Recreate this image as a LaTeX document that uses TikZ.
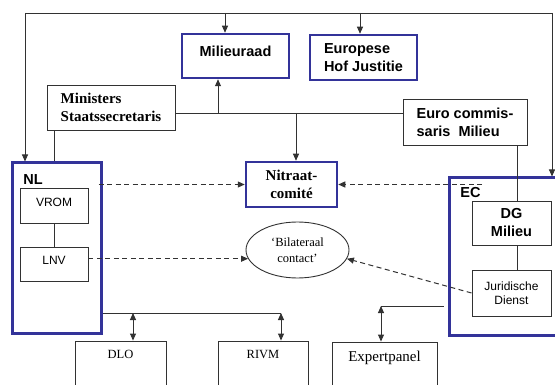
\documentclass[tikz,border=0pt]{standalone}
\usepackage{fontspec}
\setmainfont{Liberation Serif}
\setsansfont{Liberation Sans}
\usetikzlibrary{arrows.meta,shapes.geometric}
\definecolor{eublue}{RGB}{51,51,153}
\definecolor{lijn}{RGB}{50,50,50}

\begin{document}
\begin{tikzpicture}[x=1pt,y=-1pt,line width=0.9pt,draw=lijn,
    box/.style={draw=lijn,rectangle,inner sep=0pt},
    orgaan/.style={box,draw=eublue,line width=2.5pt},
    groep/.style={draw=eublue,line width=3pt,inner sep=0pt},
    kop/.style={font=\sffamily\bfseries\fontsize{14.5}{18}\selectfont},
    tekst/.style={font=\sffamily\fontsize{12}{14}\selectfont},
    vet/.style={font=\bfseries\fontsize{15}{18}\selectfont},
    serif/.style={font=\fontsize{12.5}{16}\selectfont},
    pijl/.style={-{Triangle[length=7pt,width=6pt]}},
    dubbel/.style={{Triangle[length=7pt,width=6pt]}-{Triangle[length=7pt,width=6pt]}},
    stip/.style={pijl,line width=1pt,dash pattern=on 5pt off 3.5pt}]
    \useasboundingbox (0,0) rectangle (555,385);
    \clip (0,0) rectangle (555,385);

    \node[groep,minimum width=89pt,minimum height=170pt] (nl) at (56.5,248) {};
    \node[groep,minimum width=126pt,minimum height=157pt] (ec) at (512,256.5) {};
    \node[kop,anchor=base west,inner sep=0pt] (nlkop) at (23,185) {NL};
    \node[kop,anchor=base west,inner sep=0pt] (eckop) at (460,198) {EC};

    \node[orgaan,kop,minimum width=107pt,text height=23pt,text depth=21pt] (mr) at (235.5,56) {Milieuraad};
    \node[orgaan,kop,minimum width=107pt,minimum height=45pt,align=left] (ehj) at (363.5,57.5) {Europese\\Hof Justitie};
    \node[box,vet,minimum width=128pt,minimum height=45pt,align=left] (min) at (111,107.5) {Ministers\\Staatssecretaris};
    \node[box,kop,minimum width=124pt,minimum height=46pt,align=left] (eu) at (465,122) {Euro commis-\\saris\ \ Milieu};
    \node[orgaan,vet,minimum width=91pt,minimum height=45pt,align=center] (nc) at (291.5,184.5) {Nitraat-\\comité};

    \node[box,tekst,minimum width=68pt,text height=18.5pt,text depth=16.5pt] (vrom) at (54,205.5) {VROM};
    \node[box,tekst,minimum width=68pt,text height=17.5pt,text depth=16.5pt] (lnv) at (54,264) {LNV};
    \node[box,kop,minimum width=79pt,minimum height=44pt,align=center] (dg) at (511.5,223) {DG\\Milieu};
    \node[box,tekst,minimum width=79pt,minimum height=46pt,align=center] (jd) at (511.5,293) {Juridische\\Dienst};
    \node[draw=lijn,ellipse,serif,inner sep=0pt,minimum width=103pt,minimum height=56pt,align=center] (bc) at (297.5,250) {‘Bilateraal\\contact’};

    \node[box,serif,minimum width=91pt,text height=18pt,text depth=42pt] (dlo) at (120.5,371) {DLO};
    \node[box,serif,minimum width=90pt,text height=18pt,text depth=42pt] (rivm) at (263,371) {RIVM};
    \node[box,font=\fontsize{15}{18}\selectfont,minimum width=105pt,text height=19pt,text depth=41pt] (ep) at (384.5,372) {Expertpanel};

    \coordinate (tl) at (25,13);
    \coordinate (tr) at (552,13);
    \draw (tl) -- (tr);
    \draw[pijl] (tl) -- (tl |- nl.north);
    \draw[pijl] (tr) -- (tr |- ec.north);
    \draw[pijl] ([xshift=-10.5pt]mr.north |- tl) -- ([xshift=-10.5pt]mr.north);
    \draw[pijl] ([xshift=-3.5pt]ehj.north |- tl) -- ([xshift=-3.5pt]ehj.north);

    \coordinate (hl) at ([yshift=-5.5pt]min.east);
    \draw (hl) -- (hl -| eu.west);
    \draw[pijl] ([xshift=-17.5pt]mr.south |- hl) -- ([xshift=-17.5pt]mr.south);
    \draw[pijl] ([xshift=4.5pt]nc.north |- hl) -- ([xshift=4.5pt]nc.north);
    \draw ([xshift=-2.5pt]nl.north |- min.south) -- ([xshift=-2.5pt]nl.north);
    \draw ([xshift=5.5pt]dg.north |- eu.south) -- ([xshift=5.5pt]dg.north);
    \draw ([xshift=5.5pt]dg.south) -- ([xshift=5.5pt]jd.north);
    \draw (vrom) -- (lnv);

    \draw[stip] ([xshift=-4pt]nl.east |- nc.west) -- (nc.west);
    \draw[stip] ([xshift=-30pt]ec.north |- nc.east) -- (nc.east);
    \draw[stip] (lnv.east |- bc.190) -- (bc.190);
    \draw[stip] (jd.west) -- (bc.-10);

    \coordinate (ob) at ([yshift=-65pt]nl.east);
    \coordinate (or) at ([xshift=18pt]rivm.north |- ob);
    \draw (ob) -- (or);
    \draw[dubbel] ([xshift=12.5pt]dlo.north |- ob) -- ([xshift=12.5pt]dlo.north);
    \draw[dubbel] (or) -- (or |- rivm.north);
    \coordinate (ecl) at ([xshift=-4pt,yshift=-49.5pt]ec.west);
    \coordinate (epl) at ([xshift=-3.5pt]ep.north |- ecl);
    \draw (ecl) -- (epl);
    \draw[dubbel] (epl) -- (epl |- ep.north);
\end{tikzpicture}
\end{document}
